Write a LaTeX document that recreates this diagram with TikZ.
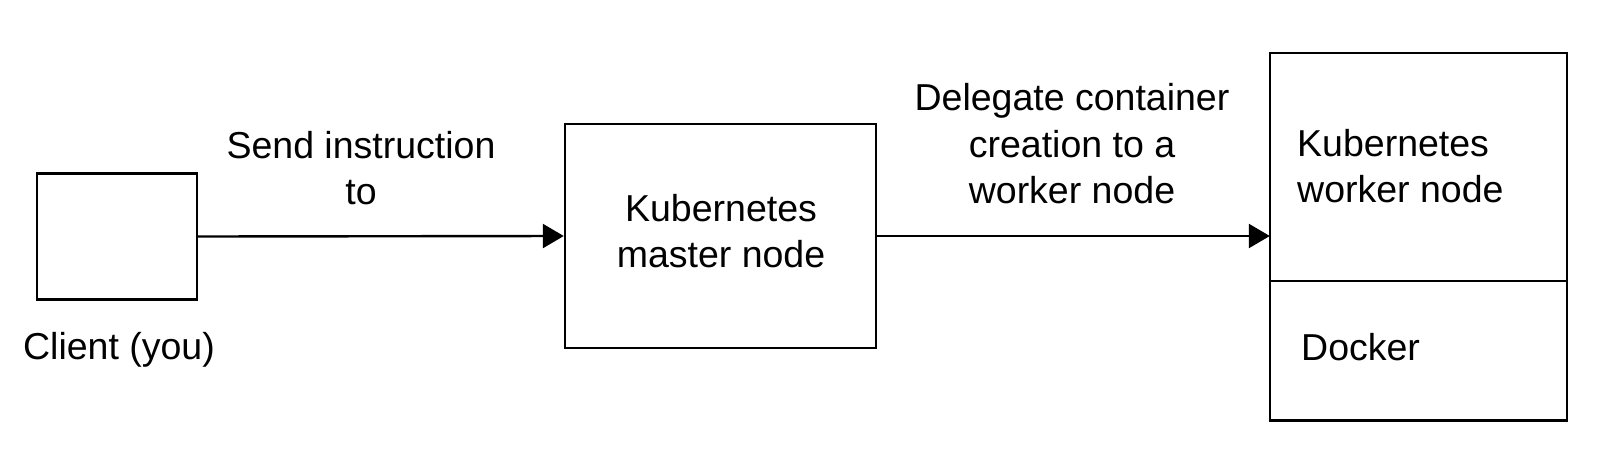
\documentclass[tikz,border=0pt]{standalone}
\usepackage{fontspec}
\setmainfont{Liberation Sans}
\usetikzlibrary{arrows.meta}
\begin{document}
\begin{tikzpicture}[x=1pt,y=-1pt,
  box/.style={draw,line width=2.4pt,inner sep=0pt},
  lbl/.style={font=\fontsize{37.5}{46.5}\selectfont,inner sep=0pt,align=center},
  lbll/.style={font=\fontsize{37.5}{46.5}\selectfont,inner sep=0pt,align=left},
  conn/.style={line width=2.4pt,-{Triangle[length=21pt,width=24pt]}}]
\useasboundingbox (0,0) rectangle (1616,469);
\node[box,minimum width=160pt,minimum height=126pt] (client) at (117,236.5) {};
\node[box,minimum width=311pt,minimum height=224pt] (master) at (720.5,236) {};
\node[inner sep=0pt,minimum width=297pt,minimum height=228pt] (wtop) at (1418.5,167) {};
\node[inner sep=0pt,minimum width=297pt,minimum height=139pt,anchor=north] (wbot) at (wtop.south) {};
\draw[line width=2.4pt] (wtop.north west) rectangle (wbot.south east);
\draw[line width=2.4pt] (wtop.south west) -- (wtop.south east);
\draw[conn] (client.east) -- (master.west);
\draw[conn] (master.east) -- (master.east -| wtop.west);
\node[lbl] (send) at (361,168) {Send instruction\\to};
\node[lbl] (cl) at (119,350) {Client (you)};
\node[lbl] (mt) at (721,231) {Kubernetes\\master node};
\node[lbl] (dt) at (1072,144) {Delegate container\\creation to a\\worker node};
\node[lbll,anchor=west] (wt) at (1297,166) {Kubernetes\\worker node};
\node[lbll,anchor=west] (dk) at (1301,347) {Docker};
\end{tikzpicture}
\end{document}
